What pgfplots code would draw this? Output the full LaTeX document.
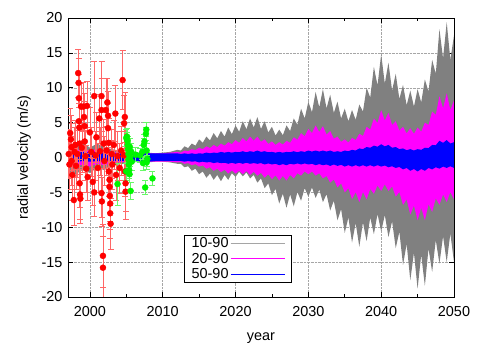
\documentclass[border=0pt]{standalone}
\usepackage{fontspec}
\setmainfont{Liberation Sans}
\usepackage{pgfplots}
\usepackage{pgfplotstable}
\pgfplotsset{compat=1.18}
\usepgfplotslibrary{fillbetween}
\definecolor{bandgray}{RGB}{128,128,128}
\definecolor{legendgray}{RGB}{165,165,165}
\definecolor{bandmag}{RGB}{255,0,255}
\definecolor{bandblue}{RGB}{0,0,255}
\definecolor{ptred}{RGB}{255,0,0}
\definecolor{ptgreen}{RGB}{0,245,0}
\pgfplotsset{longlegend/.style={legend image code/.code={\draw[##1] (0bp,0bp) -- (54bp,0bp);}}}

% envelopes of the three model bands: year, 10-90, 20-90, 50-90 (upper, lower)
\pgfplotstableread{
x gu gl mu ml bu bl
1997 2.0 -2.0 1.2 -1.2 0.8 -0.6
1998 1.6 -2.4 1.0 -1.4 0.6 -0.7
1999 2.2 -1.8 1.3 -1.0 0.8 -0.5
2000 1.4 -2.2 1.0 -1.3 0.7 -0.6
2001 2.0 -1.5 1.2 -0.9 0.8 -0.5
2002 1.5 -1.8 0.9 -1.1 0.6 -0.6
2003 1.2 -1.2 0.8 -0.8 0.6 -0.5
2004 1.0 -1.0 0.7 -0.7 0.6 -0.5
2005 0.8 -0.8 0.6 -0.6 0.6 -0.5
2006 0.7 -0.7 0.6 -0.6 0.6 -0.5
2007 0.7 -0.6 0.6 -0.6 0.6 -0.5
2008 0.7 -0.7 0.6 -0.6 0.6 -0.6
2009 0.6 -0.6 0.6 -0.6 0.6 -0.5
2010 0.7 -0.6 0.6 -0.6 0.6 -0.5
2011 0.8 -0.7 0.7 -0.6 0.6 -0.5
2012 1.1 -0.9 0.8 -0.7 0.6 -0.5
2012.5 1.0 -0.9 0.7 -0.65 0.5 -0.5
2013 1.6 -1.4 1.0 -0.9 0.6 -0.6
2013.5 1.35 -1.25 0.9 -0.8 0.5 -0.5
2014 2.0 -1.9 1.2 -1.1 0.6 -0.6
2014.5 1.7 -1.6 1.05 -0.95 0.5 -0.55
2015 2.6 -2.4 1.4 -1.3 0.6 -0.7
2015.5 2.1 -2.0 1.2 -1.15 0.55 -0.6
2016 3.0 -2.9 1.6 -1.6 0.7 -0.7
2016.5 2.45 -2.3 1.35 -1.4 0.6 -0.65
2017 3.5 -3.2 1.8 -1.9 0.7 -0.8
2017.5 2.75 -2.5 1.5 -1.6 0.65 -0.7
2018 3.8 -3.4 2.0 -2.1 0.8 -0.8
2018.5 3.0 -2.5 1.7 -1.75 0.7 -0.75
2019 4.3 -3.2 2.2 -2.3 0.8 -0.9
2019.5 3.35 -2.25 1.9 -1.85 0.7 -0.75
2020 4.6 -2.8 2.5 -2.3 0.8 -0.9
2020.5 3.7 -2.05 2.1 -1.9 0.75 -0.75
2021 5.2 -2.7 2.8 -2.4 0.9 -0.9
2021.5 4.05 -2.15 2.3 -1.95 0.75 -0.75
2022 5.6 -3.0 3.0 -2.5 0.9 -0.9
2022.5 4.3 -2.5 2.4 -2.05 0.8 -0.8
2023 5.8 -3.6 3.0 -2.6 1.0 -0.9
2023.5 4.1 -3.0 2.25 -2.2 0.8 -0.8
2024 5.2 -4.4 2.6 -2.9 0.9 -1.0
2024.5 3.6 -3.7 1.95 -2.4 0.75 -0.85
2025 4.4 -5.4 2.3 -3.1 0.8 -1.0
2025.5 3.15 -4.5 1.8 -2.55 0.7 -0.9
2026 4.0 -6.6 2.2 -3.3 0.8 -1.1
2026.5 3.2 -5.2 1.85 -2.65 0.7 -0.95
2027 4.6 -7.2 2.4 -3.3 0.8 -1.1
2027.5 3.8 -5.3 2.1 -2.5 0.75 -0.9
2028 5.6 -7.0 2.9 -3.0 0.9 -1.0
2028.5 4.7 -4.95 2.55 -2.25 0.75 -0.85
2029 7.0 -6.2 3.5 -2.6 0.9 -1.0
2029.5 5.6 -4.4 3.05 -2.0 0.8 -0.85
2030 8.0 -5.6 4.1 -2.4 1.0 -1.0
2030.5 6.5 -4.3 3.5 -2.0 0.85 -0.9
2031 9.4 -5.8 4.6 -2.6 1.0 -1.1
2031.5 7.2 -4.6 3.65 -2.25 0.85 -0.95
2032 9.8 -6.4 4.5 -3.0 1.0 -1.1
2032.5 7.05 -5.25 3.3 -2.65 0.85 -1.0
2033 9.0 -7.6 3.8 -3.6 1.0 -1.2
2033.5 6.4 -6.2 2.7 -3.15 0.8 -1.0
2034 8.0 -9.0 3.0 -4.3 0.9 -1.2
2034.5 5.6 -7.4 2.25 -3.7 0.8 -1.05
2035 7.0 -10.8 2.6 -5.0 1.0 -1.3
2035.5 5.2 -8.6 2.15 -4.4 0.9 -1.1
2036 6.8 -12.2 2.8 -6.0 1.1 -1.3
2036.5 5.4 -9.4 2.5 -4.95 1.0 -1.1
2037 7.6 -12.8 3.4 -6.4 1.3 -1.3
2037.5 6.6 -9.3 3.1 -4.95 1.2 -1.1
2038 10.0 -12.0 4.4 -6.0 1.5 -1.3
2038.5 8.6 -8.6 4.0 -4.5 1.4 -1.1
2039 13.0 -11.0 5.6 -5.2 1.7 -1.3
2039.5 10.35 -8.1 4.95 -4.0 1.55 -1.1
2040 14.8 -10.6 6.8 -4.8 1.9 -1.3
2040.5 10.6 -8.25 5.3 -3.85 1.6 -1.15
2041 13.6 -11.4 6.4 -4.8 1.8 -1.4
2041.5 9.6 -9.15 4.65 -4.15 1.4 -1.25
2042 12.0 -13.0 5.2 -5.6 1.5 -1.5
2042.5 8.4 -10.65 3.85 -4.95 1.2 -1.35
2043 10.4 -15.4 4.4 -6.8 1.3 -1.7
2043.5 7.5 -12.4 3.45 -6.0 1.05 -1.5
2044 9.6 -17.6 4.2 -8.2 1.2 -1.9
2044.5 7.3 -13.65 3.4 -6.9 1.0 -1.65
2045 9.8 -18.8 4.3 -9.0 1.2 -2.0
2045.5 7.9 -13.95 3.7 -7.2 1.1 -1.65
2046 11.2 -18.4 5.0 -9.0 1.4 -1.9
2046.5 9.45 -13.05 4.65 -6.7 1.35 -1.5
2047 14.0 -16.4 6.6 -7.8 1.8 -1.7
2047.5 12.0 -11.85 6.1 -5.85 1.75 -1.4
2048 18.4 -15.2 8.8 -6.8 2.4 -1.6
2048.5 14.2 -11.3 7.05 -5.3 2.1 -1.3
2049 19.4 -15.0 9.2 -6.4 2.5 -1.5
2049.5 14.0 -10.9 6.8 -4.95 2.0 -1.25
2050 17.5 -15.0 8.2 -6.0 2.2 -1.5
}\bands

% older measurements (red)
\pgfplotstableread{
x y e
1997.1 0.5 3.5
1997.2 -1.0 3.5
1997.3 3.5 3.6
1997.4 2.6 3.5
1997.5 1.5 3.4
1997.5 -0.5 3.5
1997.6 -2.5 3.6
1997.8 -6.1 3.6
1997.9 0.8 3.5
1998.0 1.8 3.5
1998.1 -1.2 3.4
1998.3 0.5 3.4
1998.4 12.1 3.4
1998.45 10.7 3.5
1998.5 8.5 3.4
1998.5 5.2 3.5
1998.55 4.3 3.4
1998.6 2.0 3.4
1998.6 -3.7 3.5
1998.65 -5.3 3.6
1998.7 -5.9 3.5
1998.8 7.3 3.4
1998.9 1.4 3.5
1999.1 7.3 3.5
1999.2 5.8 3.4
1999.3 4.5 3.5
1999.3 2.3 3.4
1999.4 0.2 3.5
1999.5 -1.6 3.4
1999.6 7.4 3.5
1999.7 -2.8 3.4
2000.0 3.6 3.6
2000.2 0.8 3.5
2000.4 -3.5 3.4
2000.6 8.8 5.0
2000.6 -5.0 3.5
2000.8 0.3 3.5
2000.9 2.9 3.6
2001.1 -1.5 3.5
2001.3 5.6 3.5
2001.4 0.9 3.5
2001.6 8.8 5.0
2001.6 6.8 4.6
2001.6 -5.1 3.5
2001.65 -6.3 3.5
2001.8 -14.1 4.5
2001.8 -15.8 4.5
2001.9 2.0 3.5
2002.0 -0.5 3.5
2002.2 6.8 4.5
2002.3 1.0 3.5
2002.4 7.9 3.5
2002.5 6.0 3.5
2002.5 4.2 3.6
2002.6 2.1 3.5
2002.6 -2.0 3.5
2002.7 -3.2 3.6
2002.7 -4.2 3.6
2002.75 -5.5 3.6
2002.8 -6.6 3.7
2002.8 -8.0 3.6
2002.85 -9.5 3.7
2003.0 0.5 3.5
2003.1 -1.0 3.5
2003.3 1.8 3.5
2003.5 6.3 4.0
2003.6 -2.5 3.6
2003.8 0.2 3.5
2004.1 -1.5 3.6
2004.3 1.0 3.5
2004.5 11.1 4.2
2004.7 4.9 4.0
2004.7 0.3 3.5
2004.8 5.8 3.6
2004.8 -2.0 3.6
2004.9 -3.7 4.0
2004.9 -4.9 4.0
}\reddata

% newer measurements (green)
\pgfplotstableread{
x y e
2003.8 -3.8 3.0
2005.0 2.8 1.2
2005.1 3.0 1.2
2005.15 2.4 1.2
2005.2 1.8 1.2
2005.25 1.2 1.2
2005.3 0.5 1.2
2005.3 -0.3 1.2
2005.35 -1.0 1.2
2005.4 -1.8 1.2
2005.45 -2.4 1.2
2005.0 -2.0 1.2
2005.5 1.5 1.2
2005.55 0.0 1.2
2005.6 -4.8 1.2
2005.7 0.8 1.2
2005.75 -0.6 1.2
2006.3 0.4 1.0
2006.9 0.3 1.0
2007.2 0.8 1.0
2007.3 -0.8 1.0
2007.4 1.8 1.0
2007.5 2.3 1.0
2007.6 -4.3 1.0
2007.7 3.4 1.0
2007.75 4.0 1.0
2007.8 1.0 1.0
2007.8 -0.7 1.0
2007.9 -0.2 1.0
2008.6 -3.0 1.0
}\greendata

\begin{document}
\begin{tikzpicture}
\begin{axis}[
  at={(0,0)}, anchor=south west,
  width=386bp, height=279bp, scale only axis,
  xmin=1997, xmax=2050, ymin=-20, ymax=20,
  xtick={2000,2010,...,2050},
  minor xtick={2005,2015,...,2045},
  ytick={-20,-15,...,20},
  grid=major,
  grid style={densely dotted, gray!70, line width=0.4pt},
  tick align=inside,
  major tick length=5bp, minor tick length=3bp,
  axis line style={line width=0.8pt},
  tick style={black, line width=0.6pt},
  /pgf/number format/assume math mode=true,
  /pgf/number format/1000 sep={},
  tick label style={font=\fontsize{14.5}{16}\selectfont},
  label style={font=\fontsize{14.5}{16}\selectfont},
  xticklabel style={yshift=-6bp},
  yticklabel style={xshift=-2bp},
  xlabel={year}, ylabel={radial velocity (m/s)},
  xlabel style={yshift=-9bp},
  ylabel style={yshift=4bp},
  legend plot pos=right,
  legend style={at={(0.30,0.05)}, anchor=south west, draw=black,
    fill=white, line width=0.6pt, font=\fontsize{14.5}{15}\selectfont,
    inner xsep=6bp, inner ysep=1bp, row sep=1bp, cells={anchor=west},
    nodes={inner sep=1.5bp},
    /tikz/every even column/.append style={column sep=7bp}},
]
\addplot[name path=gu, draw=none, forget plot] table[x=x, y=gu] {\bands};
\addplot[name path=gl, draw=none, forget plot] table[x=x, y=gl] {\bands};
\addplot[name path=mu, draw=none, forget plot] table[x=x, y=mu] {\bands};
\addplot[name path=ml, draw=none, forget plot] table[x=x, y=ml] {\bands};
\addplot[name path=bu, draw=none, forget plot] table[x=x, y=bu] {\bands};
\addplot[name path=bl, draw=none, forget plot] table[x=x, y=bl] {\bands};
\addplot[fill=bandgray, draw=none, forget plot] fill between[of=gu and gl];
\addplot[fill=bandmag, draw=none, forget plot] fill between[of=mu and ml];
\addplot[fill=bandblue, draw=none, forget plot] fill between[of=bu and bl];

\addplot[only marks, mark=*, mark size=3bp, ptred, forget plot,
  error bars/.cd, y dir=both, y explicit,
  error bar style={ptred!60, line width=0.6pt},
  error mark options={rotate=90, mark size=3bp, ptred!60, line width=0.6pt}]
  table[x=x, y=y, y error=e] {\reddata};
\addplot[only marks, mark=*, mark size=3bp, ptgreen, forget plot,
  error bars/.cd, y dir=both, y explicit,
  error bar style={ptgreen!60, line width=0.6pt},
  error mark options={rotate=90, mark size=3bp, ptgreen!60, line width=0.6pt}]
  table[x=x, y=y, y error=e] {\greendata};

\addlegendimage{longlegend, legendgray, line width=1.2pt}
\addlegendentry{10-90}
\addlegendimage{longlegend, bandmag, line width=1.2pt}
\addlegendentry{20-90}
\addlegendimage{longlegend, bandblue, line width=1.2pt}
\addlegendentry{50-90}
\end{axis}
\pgfresetboundingbox
\path[use as bounding box] (-68bp,-46bp) rectangle (412bp,297bp);
\end{tikzpicture}
\end{document}
